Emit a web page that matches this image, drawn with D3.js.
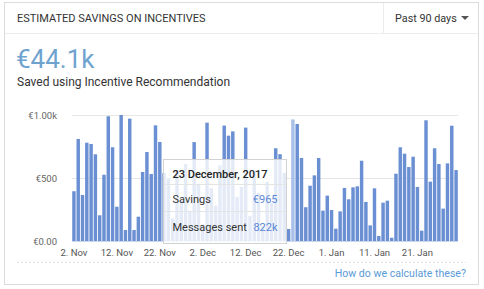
<!DOCTYPE html>
<html>
<head>
<meta charset="utf-8">
<script src="https://cdn.jsdelivr.net/npm/d3@7"></script>
<style>
body{margin:0;background:#fff;font-family:Roboto,"Liberation Sans",sans-serif}
</style>
</head>
<body>
<div id="chart"></div>
<script>
// daily savings in euro, 2 Nov 2017 .. 30 Jan 2018 (bars behind the tooltip are estimates)
var savings = [
	395,810,365,780,770,688,204,526,990,744,
	272,1000,87,971,87,193,548,706,532,918,
	786,540,500,180,560,320,610,240,785,450,
	130,939,420,280,600,916,836,870,350,430,
	900,200,560,380,120,470,300,736,689,540,
	95,965,929,659,268,439,521,659,241,360,
	246,98,235,421,331,426,434,637,310,124,
	418,40,304,320,26,534,744,693,587,669,
	429,82,958,471,736,611,257,616,915,563
]
var startDate = new Date(2017,10,2)
var yTicks = [0,500,1000]
var yTickLabels = ["€0.00","€500","€1.00k"]
var tipIndex = 51
var tipRows = [["Savings","€965"],["Messages sent","822k"]]

var width = 484
var height = 289
var days = d3.timeDay.range(startDate, d3.timeDay.offset(startDate, savings.length))

var svg = d3.select("#chart").append("svg").attr("width",width).attr("height",height)

// card
svg.append("rect").attr("x",4.5).attr("y",2.5).attr("width",474).attr("height",282)
	.attr("fill","#fff").attr("stroke","#dcdcdc")
svg.append("line").attr("x1",5).attr("x2",478).attr("y1",33.5).attr("y2",33.5).attr("stroke","#ececec")
svg.append("line").attr("x1",383.5).attr("x2",383.5).attr("y1",3).attr("y2",33).attr("stroke","#ececec")

svg.append("text").text("ESTIMATED SAVINGS ON INCENTIVES").attr("x",17).attr("y",22)
	.style("font-size","11px").attr("fill","#333")
svg.append("text").text("Past 90 days").attr("x",395).attr("y",22)
	.style("font-size","10.8px").attr("fill","#333")
svg.append("path").attr("d","M461,16 L469,16 L465,20 Z").attr("fill","#555")

svg.append("text").text("€44.1k").attr("x",16).attr("y",68)
	.style("font-size","26px").attr("fill","#6fa3cf")
svg.append("text").text("Saved using Incentive Recommendation").attr("x",17).attr("y",86)
	.style("font-size","12px").attr("fill","#333")

// scales
var x = d3.scaleBand().domain(days).range([72,458]).paddingInner(0.2).paddingOuter(0.05)
var y = d3.scaleLinear().domain([0,1000]).range([241,115])

svg.append("g").selectAll("line").data(yTicks).join("line")
	.attr("x1",72).attr("x2",458)
	.attr("y1",function(d){return Math.round(y(d))+0.5}).attr("y2",function(d){return Math.round(y(d))+0.5})
	.attr("stroke","#e6e6e6")

var yAxis = d3.axisLeft(y).tickValues(yTicks).tickSize(0)
	.tickFormat(function(d,i){return yTickLabels[i]})
var gy = svg.append("g").attr("transform","translate(57,0)").call(yAxis)
gy.select(".domain").remove()
gy.selectAll("text").attr("x",0).attr("dy","0.35em").attr("fill","#666")
	.style("font-size","9.5px").style("font-family","Roboto,sans-serif")

// bars
svg.append("g").selectAll("rect").data(savings).join("rect")
	.attr("x",function(d,i){return x(days[i])})
	.attr("width",x.bandwidth())
	.attr("y",function(d){return y(d)})
	.attr("height",function(d){return y(0)-y(d)})
	.attr("fill",function(d,i){return i==tipIndex ? "#a9c1e9" : "#6a8fd3"})

svg.append("line").attr("x1",72).attr("x2",458).attr("y1",241.5).attr("y2",241.5)
	.attr("stroke","#ccd6eb")

// x axis
var xTickDays = days.filter(function(d,i){return i%10==0})
var xAxis = d3.axisBottom(x).tickValues(xTickDays).tickSize(0)
	.tickFormat(d3.timeFormat("%-d. %b"))
var gx = svg.append("g").attr("transform","translate(0,246)").call(xAxis)
gx.select(".domain").remove()
gx.selectAll("text").attr("fill","#555").style("font-size","9.5px")
	.style("font-family","Roboto,sans-serif")

// tooltip
var tip = svg.append("g").attr("transform","translate(163.5,159.5)")
tip.append("rect").attr("width",123).attr("height",84).attr("fill","#fff")
	.attr("fill-opacity",0.82).attr("stroke","#d2d2d2")
tip.append("text").text(d3.timeFormat("%-d %B, %Y")(days[tipIndex])).attr("x",9).attr("y",18)
	.style("font-size","11px").style("font-weight",500).attr("fill","#222")
tip.selectAll(".sep").data(tipRows).join("line").attr("class","sep")
	.attr("x1",1).attr("x2",122)
	.attr("y1",function(d,i){return 25+i*27}).attr("y2",function(d,i){return 25+i*27})
	.attr("stroke","#e4e4e4")
tip.selectAll(".lab").data(tipRows).join("text").attr("class","lab")
	.text(function(d){return d[0]}).attr("x",9).attr("y",function(d,i){return 43+i*28})
	.style("font-size","11px").attr("fill","#333")
tip.selectAll(".val").data(tipRows).join("text").attr("class","val")
	.text(function(d){return d[1]}).attr("x",114).attr("y",function(d,i){return 43+i*28})
	.attr("text-anchor","end").style("font-size","11px").attr("fill","#5b86d4")

// footer
svg.append("line").attr("x1",17).attr("x2",466).attr("y1",262.5).attr("y2",262.5)
	.attr("stroke","#e0e0e0").attr("stroke-dasharray","2,2")
svg.append("text").text("How do we calculate these?").attr("x",466).attr("y",277)
	.attr("text-anchor","end").style("font-size","10.6px").attr("fill","#5b9ad8")
</script>
</body>
</html>
